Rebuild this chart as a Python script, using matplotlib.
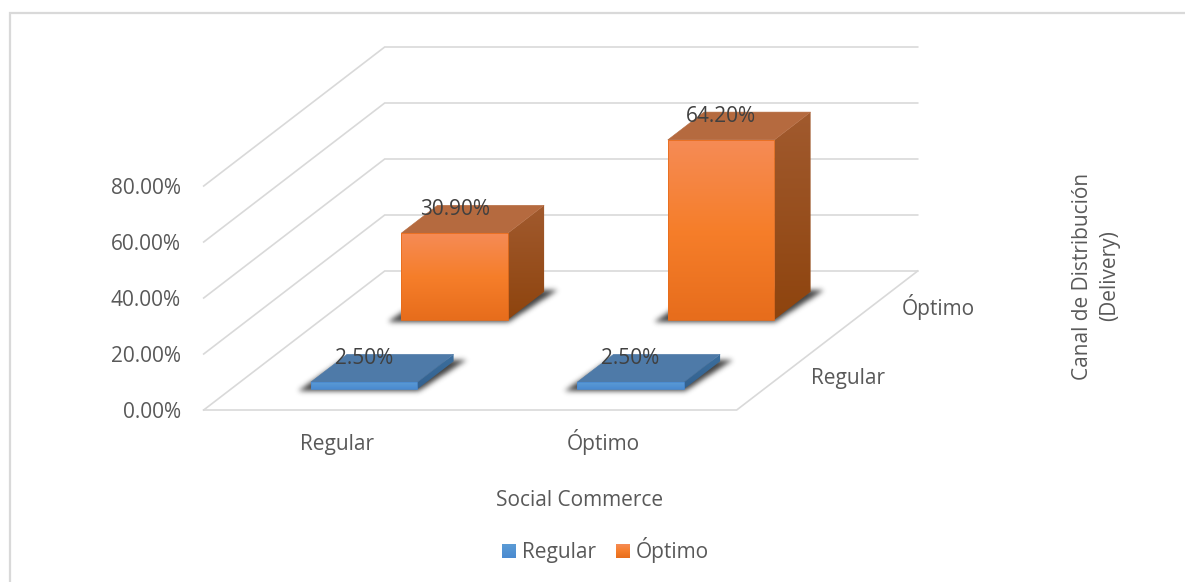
import numpy as np
import matplotlib
matplotlib.use("Agg")
import matplotlib.pyplot as plt
from matplotlib.patches import Polygon, Rectangle
from matplotlib.path import Path
from matplotlib.colors import to_rgb

# ---- data ----
x_categories = ["Regular", "Óptimo"]
depth_series = ["Regular", "Óptimo"]
regular_values = [2.5, 2.5]
optimo_values = [30.9, 64.2]
value_ticks = [0, 20, 40, 60, 80]
x_title = "Social Commerce"
depth_title = "Canal de Distribución\n(Delivery)"

W, H = 1185, 582
TEXT = "#595959"
GRID = "#d9d9d9"
FONT = "Open Sans"
FS = 15.0

plt.rcParams["font.family"] = [FONT, "DejaVu Sans"]
fig = plt.figure(figsize=(W / 100, H / 100), dpi=100)
ax = fig.add_axes([0, 0, 1, 1])
ax.set_xlim(0, W)
ax.set_ylim(H, 0)
ax.axis("off")

# oblique projection: category, series depth, value -> pixel
def proj(x, d, v):
    return (203.7 + x * 266.5 + d * 90.5, 410 - d * 69.5 - v * 2.8)

ax.add_patch(Rectangle((10, 13), 1400, 800, fc="white", ec=GRID, lw=1.6, zorder=0))

# grid
for v in value_ticks:
    pts = [proj(0, 0, v), proj(0, 2, v), proj(2, 2, v)]
    ax.plot(*zip(*pts), color=GRID, lw=1.2, zorder=1, solid_joinstyle="miter")
    ax.text(181, proj(0, 0, v)[1] + 7.5, f"{v:.2f}%", ha="right", va="baseline",
            color=TEXT, fontsize=FS)
floor = [proj(0, 0, 0), proj(2, 0, 0), proj(2, 2, 0)]
ax.plot(*zip(*floor), color=GRID, lw=1.2, zorder=1)


def gradient_quad(quad, stops, z):
    poly = Polygon(quad, closed=True, fc="none", ec="none", zorder=z)
    ax.add_patch(poly)
    xs = [p[0] for p in quad]
    ys = [p[1] for p in quad]
    t = np.linspace(0, 1, 64)
    sx = np.array([s[0] for s in stops])
    img = np.stack([np.interp(t, sx, [to_rgb(s[1])[i] for s in stops])
                    for i in range(3)], axis=1)[:, None, :]
    im = ax.imshow(img, extent=(min(xs), max(xs), max(ys), min(ys)), aspect="auto",
                   zorder=z, interpolation="bilinear")
    im.set_clip_path(poly)


def blur(a, sigma):
    r = int(3 * sigma) + 1
    k = np.exp(-0.5 * (np.arange(-r, r + 1) / sigma) ** 2)
    k /= k.sum()
    a = np.apply_along_axis(lambda m: np.convolve(m, k, mode="same"), 0, a)
    return np.apply_along_axis(lambda m: np.convolve(m, k, mode="same"), 1, a)


def shadow(x0, x1, d0, d1, z):
    a, b, c, e = proj(x0, d0, 0), proj(x1, d0, 0), proj(x1, d1, 0), proj(x0, d1, 0)
    pts = [(a[0] - 13, a[1] + 2), (b[0] + 1, b[1] + 2),
           (c[0] + 13, c[1] - 1.5), (e[0] - 4, e[1] - 1.5)]
    xmin, xmax = int(a[0] - 30), int(c[0] + 30)
    ymin, ymax = int(c[1] - 20), int(a[1] + 20)
    gx, gy = np.meshgrid(np.arange(xmin, xmax) + 0.5, np.arange(ymin, ymax) + 0.5)
    inside = Path(pts).contains_points(np.c_[gx.ravel(), gy.ravel()]).reshape(gx.shape)
    alpha = blur(inside.astype(float), 2.6) * 0.85
    rgba = np.zeros(gx.shape + (4,))
    rgba[..., :3] = 0.13
    rgba[..., 3] = alpha
    ax.imshow(rgba, extent=(xmin, xmax, ymax, ymin), aspect="auto", zorder=z - 0.5,
              interpolation="bilinear")


def bar3d(i, j, value, front, side, top):
    x0, x1 = i + 0.3, i + 0.7
    d0, d1 = j + 0.3, j + 0.7
    z = 3 + (1 - j) * 2
    shadow(x0, x1, d0, d1, z)
    f = [proj(x0, d0, value), proj(x1, d0, value), proj(x1, d0, 0), proj(x0, d0, 0)]
    s = [proj(x1, d0, value), proj(x1, d1, value), proj(x1, d1, 0), proj(x1, d0, 0)]
    t = [proj(x0, d0, value), proj(x1, d0, value), proj(x1, d1, value), proj(x0, d1, value)]
    gradient_quad(s, side, z)
    ax.add_patch(Polygon(t, closed=True, fc=top, ec=top, lw=0.4, zorder=z))
    gradient_quad(f, front, z + 0.1)
    ax.add_patch(Polygon(f, closed=True, fc="none", ec=front[-1][1], lw=0.6, zorder=z + 0.2))
    lx, ly = proj(i + 0.5, d0, value)
    ax.text(lx, ly - 18, f"{value:.2f}%", ha="center", va="baseline",
            color="#404040", fontsize=FS, zorder=10)


BLUE_F = [(0, "#5b9bd5"), (1, "#4a8ad0")]
BLUE_S = [(0, "#3c6f9e"), (1, "#33618f")]
BLUE_T = "#4e7aa8"
OR_F = [(0, "#f58b55"), (0.5, "#f67e2a"), (1, "#e76d1c")]
OR_S = [(0, "#a15a2e"), (1, "#8e440e")]
OR_T = "#b56a3f"

for i, v in enumerate(optimo_values):
    bar3d(i, 1, v, OR_F, OR_S, OR_T)
for i, v in enumerate(regular_values):
    bar3d(i, 0, v, BLUE_F, BLUE_S, BLUE_T)

# category labels
for i, c in enumerate(x_categories):
    ax.text(proj(i + 0.5, 0, 0)[0], 450, c, ha="center", va="baseline",
            color=TEXT, fontsize=FS)
depth_pos = [(848, 384), (938, 315)]
for (px, py), c in zip(depth_pos, depth_series):
    ax.text(px, py, c, ha="center", va="baseline", color=TEXT, fontsize=FS)

ax.text(579.5, 506, x_title, ha="center", va="baseline", color=TEXT, fontsize=FS)
ax.text(1096, 276, depth_title, ha="center", va="center", rotation=90,
        color=TEXT, fontsize=FS, linespacing=1.39, multialignment="center")

# legend
leg = [(502, depth_series[0], BLUE_F), (616, depth_series[1], OR_F)]
for px, lab, stops in leg:
    gradient_quad([(px, 544), (px + 14, 544), (px + 14, 558), (px, 558)], stops, 5)
    ax.text(px + 20, 558, lab, ha="left", va="baseline", color=TEXT, fontsize=FS)

ax.set_xlim(0, W)
ax.set_ylim(H, 0)
fig.savefig("out.png", dpi=100, facecolor="white")
